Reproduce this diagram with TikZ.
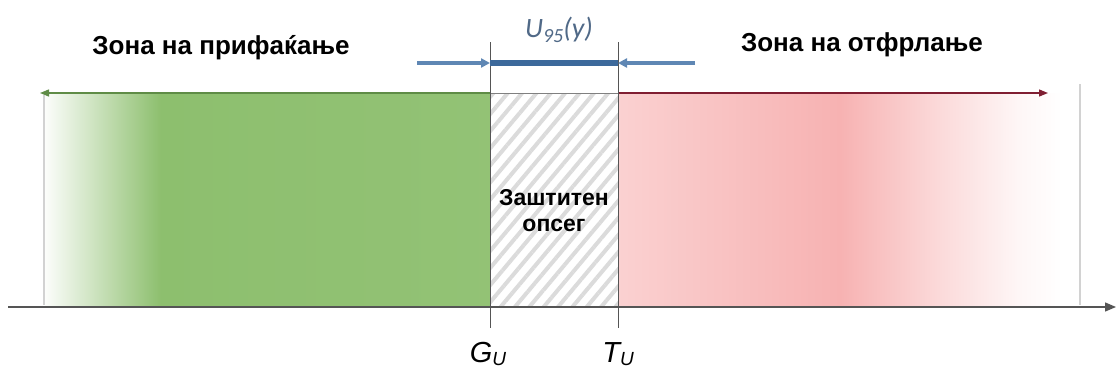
\documentclass[tikz,border=0pt]{standalone}
\usepackage{fontspec}
\setmainfont{Liberation Sans}
\newfontfamily\carlitofont{Carlito}
\usetikzlibrary{patterns.meta,arrows.meta}
\definecolor{gz}{RGB}{141,191,110}
\definecolor{rz}{RGB}{247,178,178}
\definecolor{gline}{RGB}{95,140,70}
\definecolor{rline}{RGB}{128,30,50}
\definecolor{ublue}{RGB}{95,135,180}
\definecolor{udark}{RGB}{60,105,155}
\definecolor{ulabel}{RGB}{80,105,135}
\definecolor{axisc}{RGB}{85,85,85}
\pgfdeclarehorizontalshading{greenfade}{100bp}{color(0bp)=(white); color(25bp)=(gz!3); color(30bp)=(gz!40); color(38bp)=(gz); color(75bp)=(gz!95); color(100bp)=(gz)}
\pgfdeclarehorizontalshading{redfade}{100bp}{color(0bp)=(rz!60); color(25bp)=(rz!60); color(50bp)=(rz); color(62bp)=(rz!45); color(70bp)=(rz!12); color(75bp)=(white); color(100bp)=(white)}
\tikzset{
  zonelabel/.style={font=\fontsize{26}{26}\selectfont\bfseries, inner sep=0pt},
  limitline/.style={draw=axisc, line width=1pt},
  borderline/.style={draw=gray!35, line width=1.5pt},
  uarrow/.style={draw=ublue, line width=3.5pt, -{Triangle[length=9pt,width=9pt]}},
  limlabel/.style={font=\fontsize{29}{29}\selectfont\itshape, inner sep=0pt, anchor=base},
}
\begin{document}
\begin{tikzpicture}[x=1pt,y=-1pt]
\useasboundingbox (0,0) rectangle (1116,373);
\clip (0,0) rectangle (1116,373);
% coordinates
\coordinate (gtop) at (490,42);
\coordinate (gbot) at (490,328);
\coordinate (ttop) at (618,42);
\coordinate (tbot) at (618,328);
\coordinate (gz1) at (490,93);
\coordinate (tz1) at (618,93);
\coordinate (lend) at (40,93);
\coordinate (rend) at (1048,93);
\coordinate (axl) at (8,307);
\coordinate (axr) at (1116,307);
\coordinate (gu) at (490,63);
\coordinate (tu) at (618,63);
\coordinate (ul) at (417,63);
\coordinate (ur) at (695,63);
% regions
\fill[shading=greenfade] (45,93) rectangle (490,307);
\fill[pattern={Lines[angle=50,distance=11pt,line width=4pt]}, pattern color=gray!28] (490,93) rectangle (618,307);
\fill[shading=redfade] (618,93) rectangle (1062,307);
\draw[borderline] (44,95) -- (44,305);
\draw[borderline] (1080,84) -- (1080,305);
% zone arrows
\draw[gline, line width=1.3pt, -{Triangle[length=9pt,width=7pt]}] (gz1) -- (lend);
\draw[rline, line width=1.3pt, -{Triangle[length=9pt,width=7pt]}] (tz1) -- (rend);
\draw[gray, line width=1pt] (gz1) -- (tz1);
% axis
\draw[axisc, line width=1.3pt, -{Triangle[length=11pt,width=9pt]}] (axl) -- (axr);
% limit lines
\draw[limitline] (gtop) -- (gbot);
\draw[limitline] (ttop) -- (tbot);
% uncertainty
\draw[uarrow] (ul) -- (gu);
\draw[uarrow] (ur) -- (tu);
\draw[draw=udark, line width=5.5pt] (gu) -- (tu);
% labels
\node[inner sep=0pt, text=ulabel] (ulab) at (559,30) {\fontsize{28}{28}\carlitofont\itshape U\raisebox{-0.35ex}{\fontsize{20}{20}\selectfont 95}(y)};
\node[zonelabel] (acc) at (221,48) {Зона на прифаќање};
\node[zonelabel] (rej) at (862,45) {Зона на отфрлање};
\node[font=\fontsize{23}{26}\selectfont\bfseries, align=center, inner sep=0pt] (guard) at (554,211) {Заштитен\\опсег};
\node[limlabel] (glab) at (488,362) {G\raisebox{-0.25ex}{\fontsize{19}{19}\selectfont U}};
\node[limlabel] (tlab) at (618,362) {T\raisebox{-0.25ex}{\fontsize{19}{19}\selectfont U}};
\end{tikzpicture}
\end{document}
